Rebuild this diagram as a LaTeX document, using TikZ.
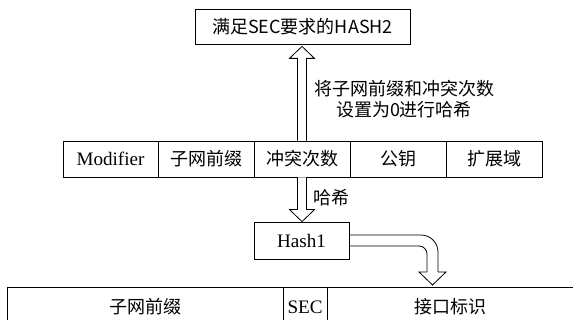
\documentclass[tikz,border=0pt]{standalone}
\usepackage{fontspec}
\setmainfont{Liberation Serif}[Scale=1.06]
\newfontfamily\cjk{Noto Sans CJK SC}
\usetikzlibrary{calc}
\tikzset{
  cell/.style={draw=black, line width=0.8pt, inner sep=0pt, minimum height=36pt,
    font=\fontsize{18}{21}\selectfont},
  lbl/.style={font=\fontsize{18}{21}\selectfont, inner sep=0pt},
  hollow/.style={draw=black, line width=0.8pt, fill=white, line join=miter},
}
\newcommand\uparr[2]{\draw[hollow] let \p1=#1, \p2=#2 in
  (\x1-4.5pt,\y1) -- (\x1-4.5pt,\y2-12pt) -- (\x1-12.5pt,\y2-12pt) -- (\x1,\y2)
  -- (\x1+12.5pt,\y2-12pt) -- (\x1+4.5pt,\y2-12pt) -- (\x1+4.5pt,\y1);}
\newcommand\downarr[2]{\draw[hollow] let \p1=#1, \p2=#2 in
  (\x1-4.5pt,\y1) -- (\x1-4.5pt,\y2+12pt) -- (\x1-12.5pt,\y2+12pt) -- (\x1,\y2)
  -- (\x1+12.5pt,\y2+12pt) -- (\x1+4.5pt,\y2+12pt) -- (\x1+4.5pt,\y1);}
\begin{document}
\begin{tikzpicture}[x=1pt,y=-1pt]
\clip (0,0) rectangle (573,320);
\fill[white] (0,0) rectangle (573,320);
% top box
\node[cell, minimum width=215pt, minimum height=35pt] (hash2) at (302.5,26.5)
  {\cjk{满足}SEC\cjk{要求的}HASH2};
% middle row
\node[cell, minimum width=95pt] (mod) at (110.5,159) {Modifier};
\node[cell, minimum width=96pt] (pre) at (206,159) {\cjk{子网前缀}};
\node[cell, minimum width=96pt] (col) at (302,159) {\cjk{冲突次数}};
\node[cell, minimum width=96pt] (pub) at (398,159) {\cjk{公钥}};
\node[cell, minimum width=96pt] (ext) at (494,159) {\cjk{扩展域}};
% hash1
\node[cell, minimum width=95pt, minimum height=37pt] (hash1) at (301.5,240.5) {Hash1};
% bottom row
\node[cell, minimum width=276pt, minimum height=40pt] (bpre) at (145,307) {\cjk{子网前缀}};
\node[cell, minimum width=44pt, minimum height=40pt] (bsec) at (305,307) {SEC};
\node[cell, minimum width=247pt, minimum height=40pt] (bif) at (450.5,307) {\cjk{接口标识}};
% labels
\node[lbl, align=center] (note) at (404,99)
  {\cjk{将子网前缀和冲突次数}\\\cjk{设置为}0\cjk{进行哈希}};
\node[lbl, anchor=west] (hl) at (313,198) {\cjk{哈希}};
% arrows
\uparr{(col.north)}{($(col.north |- hash2.south)+(0,2)$)}
\downarr{(col.south)}{(col.south |- hash1.north)}
% curved arrow from hash1 to bottom row
\coordinate (tip3) at (432.5,285);
\coordinate (oa) at ($(hash1.east)+(0,-5.5)$);
\coordinate (ia) at ($(hash1.east)+(0,5.5)$);
\draw[line width=0.8pt, rounded corners=17pt] (oa) -| ($(tip3)+(5.5,-13)$);
\draw[line width=0.8pt, rounded corners=8pt] (ia) -| ($(tip3)+(-5.5,-13)$);
\draw[line width=0.8pt, line join=miter] ($(tip3)+(5.5,-13)$) -- ($(tip3)+(13.5,-13)$) -- (tip3)
  -- ($(tip3)+(-13.5,-13)$) -- ($(tip3)+(-5.5,-13)$);
\end{tikzpicture}
\end{document}
